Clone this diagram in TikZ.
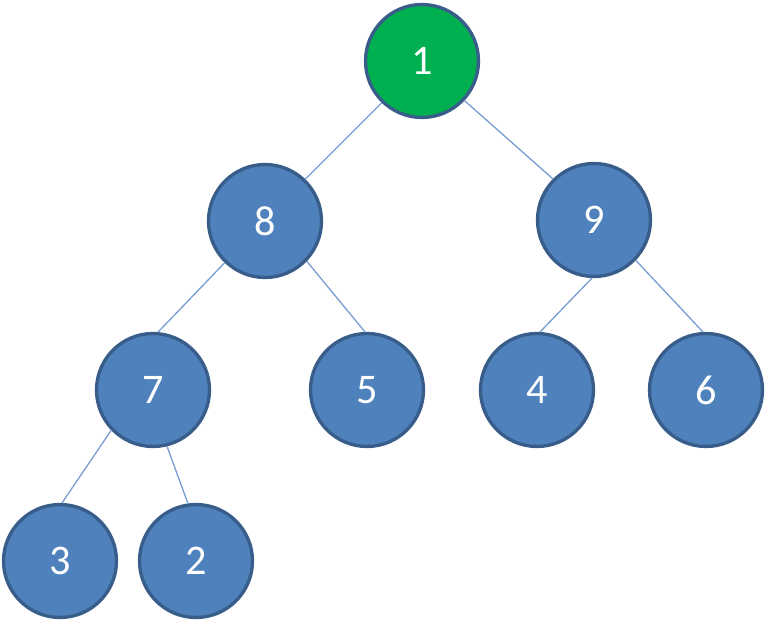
\documentclass[tikz,border=0pt]{standalone}
\usepackage{fontspec}
\setmainfont{Carlito}
\definecolor{keyblue}{RGB}{79,129,189}
\definecolor{keyline}{RGB}{56,93,138}
\definecolor{keygreen}{RGB}{0,176,80}
\definecolor{edgeblue}{RGB}{120,158,210}
\tikzset{
  key/.style={circle, draw=keyline, line width=1.9pt, fill=keyblue, minimum size=2.26cm,
    inner sep=0pt, text=white, font=\fontsize{24}{28}\selectfont},
  root/.style={key, fill=keygreen},
  link/.style={draw=edgeblue, line width=0.75pt}
}
\begin{document}
\begin{tikzpicture}[x=0.02cm, y=-0.02cm]
  \useasboundingbox (0,0) rectangle (768,621);
  % 노드
  \node[root] (n1) at (422,61) {1};
  \node[key] (n8) at (265,221) {8};
  \node[key] (n9) at (594,220) {9};
  \node[key] (n7) at (153,390) {7};
  \node[key] (n5) at (367,390) {5};
  \node[key] (n4) at (537,390) {4};
  \node[key] (n6) at (706,390) {6};
  \node[key] (n3) at (60,561) {3};
  \node[key] (n2) at (196,561) {2};
  % 연결선
  \draw[link] (n1.226) -- (n8.46);
  \draw[link] (n1.317) -- (n9.135);
  \draw[link] (n8.226) -- (n7.85);
  \draw[link] (n8.316) -- (n5.92);
  \draw[link] (n9.268) -- (n4.87);
  \draw[link] (n9.316) -- (n6.93);
  \draw[link] (n7.224) -- (n3.88);
  \draw[link] (n7.284) -- (n2.98);
\end{tikzpicture}
\end{document}
